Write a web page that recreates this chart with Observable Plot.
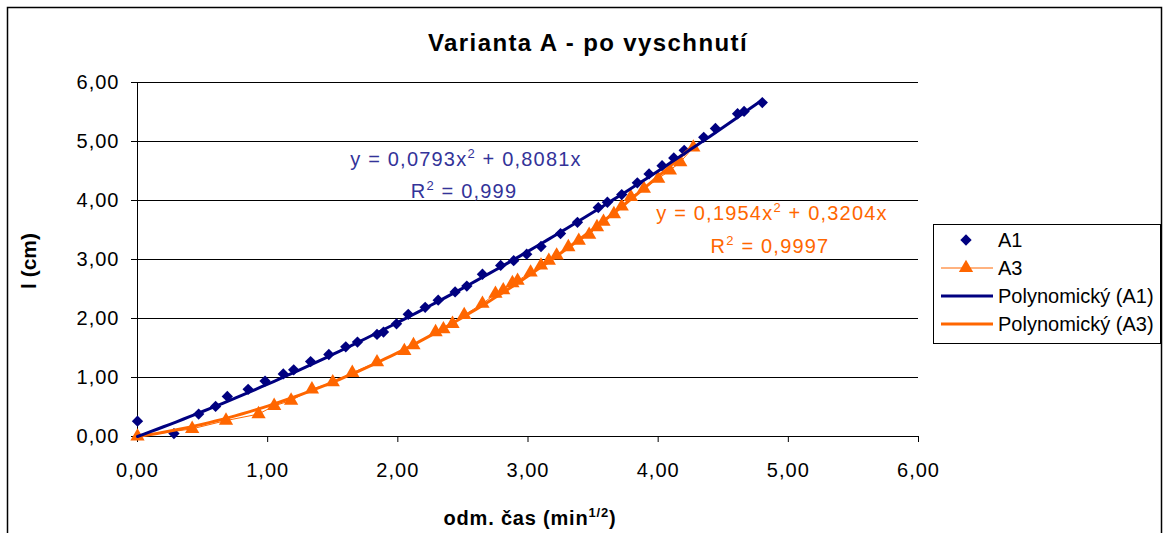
<!DOCTYPE html>
<html><head><meta charset="utf-8">
<script src="https://cdn.jsdelivr.net/npm/d3@7"></script>
<script src="https://cdn.jsdelivr.net/npm/@observablehq/plot@0.6"></script>
<style>
body{margin:0;background:#fff;}
#wrap{position:relative;width:1165px;height:533px;overflow:hidden;font-family:"Liberation Sans",Arial,sans-serif;background:#fff;}
#wrap svg{position:absolute;left:0;top:0;}
svg.chart text{letter-spacing:1px;}
</style></head><body><div id="wrap"></div>
<script>
// ---- data ----
const A1_x = [0, 0.28, 0.47, 0.60, 0.69, 0.85, 0.98, 1.12, 1.20, 1.33, 1.47, 1.60, 1.69, 1.84, 1.89, 1.99, 2.08, 2.21, 2.31, 2.44, 2.53, 2.65, 2.79, 2.89, 2.99, 3.10, 3.25, 3.38, 3.54, 3.61, 3.72, 3.84, 3.93, 4.03, 4.12, 4.20, 4.35, 4.44, 4.61, 4.66, 4.80];
const A1_y = [0.26, 0.05, 0.38, 0.51, 0.68, 0.80, 0.94, 1.06, 1.13, 1.27, 1.39, 1.52, 1.60, 1.73, 1.77, 1.91, 2.07, 2.19, 2.31, 2.45, 2.55, 2.75, 2.90, 2.98, 3.09, 3.22, 3.44, 3.63, 3.88, 3.97, 4.10, 4.30, 4.45, 4.59, 4.72, 4.85, 5.07, 5.22, 5.47, 5.51, 5.66];
const A3_x = [0, 0.42, 0.68, 0.93, 1.05, 1.18, 1.34, 1.50, 1.65, 1.84, 2.05, 2.12, 2.29, 2.35, 2.42, 2.51, 2.65, 2.75, 2.81, 2.88, 2.92, 3.02, 3.10, 3.16, 3.22, 3.31, 3.39, 3.47, 3.53, 3.58, 3.66, 3.72, 3.79, 3.89, 4.00, 4.09, 4.17, 4.27];
const A3_y = [0, 0.13, 0.27, 0.38, 0.52, 0.61, 0.80, 0.92, 1.08, 1.26, 1.45, 1.55, 1.77, 1.82, 1.91, 2.06, 2.25, 2.42, 2.48, 2.60, 2.64, 2.78, 2.90, 2.98, 3.07, 3.21, 3.32, 3.42, 3.55, 3.64, 3.77, 3.90, 4.06, 4.20, 4.37, 4.51, 4.65, 4.90];
// polynomial trendline coefficients [a (x^2), b (x)]
const trendA1 = [0.0793, 0.8081];
const trendA3 = [0.1954, 0.3204];
const xTicks = [0, 1, 2, 3, 4, 5, 6];
const yTicks = [0, 1, 2, 3, 4, 5, 6];
const seriesNames = ["A1", "A3", "Polynomický (A1)", "Polynomický (A3)"];
const title = "Varianta A - po vyschnutí";

const NAVY = "#000080", ORANGE = "#FF6600";
const R_DIAMOND = 5.1, R_TRI = 5.3;
const fmt = d => d.toFixed(2).replace(".", ",");

const A1 = A1_x.map((x, i) => ({x, y: A1_y[i]}));
const A3 = A3_x.map((x, i) => ({x, y: A3_y[i]}));
function trend(c, xmax) {
  const xs = d3.range(0, xmax, 0.05).concat([xmax]);
  return xs.map(x => ({x, y: c[0] * x * x + c[1] * x}));
}
const trA1 = trend(trendA1, d3.max(A1_x));
const trA3 = trend(trendA3, d3.max(A3_x));

const W = 1165, H = 533;
const plot = Plot.plot({
  width: W, height: H,
  marginLeft: 137, marginRight: 247, marginTop: 82, marginBottom: 97,
  className: "chart",
  style: {fontFamily: "'Liberation Sans', Arial, sans-serif", fontSize: "20px", color: "#000", background: "transparent", overflow: "visible"},
  x: {domain: [0, 6]},
  y: {domain: [0, 6]},
  marks: [
    Plot.gridY(yTicks, {stroke: "#000", strokeOpacity: 1, strokeWidth: 1}),
    Plot.ruleX([0], {stroke: "#000"}),
    Plot.ruleY([0], {stroke: "#000"}),
    Plot.axisX(xTicks, {tickSize: 6, tickPadding: 20, tickFormat: fmt, label: null, fontSize: 20, stroke: "#000"}),
    Plot.axisY(yTicks, {tickSize: 6, tickPadding: 12, tickFormat: fmt, label: null, fontSize: 20, stroke: "#000"}),
    Plot.line(A3, {x: "x", y: "y", stroke: ORANGE, strokeWidth: 1}),
    Plot.dot(A3, {x: "x", y: "y", symbol: "triangle", fill: ORANGE, r: R_TRI}),
    Plot.dot(A1, {x: "x", y: "y", symbol: "diamond2", fill: NAVY, r: R_DIAMOND}),
    Plot.line(trA3, {x: "x", y: "y", stroke: ORANGE, strokeWidth: 3}),
    Plot.line(trA1, {x: "x", y: "y", stroke: NAVY, strokeWidth: 3})
  ]
});
const wrap = document.getElementById("wrap");
wrap.appendChild(plot);

// ---- overlay: frame, titles, annotations, legend ----
const ov = d3.select(wrap).append("svg").attr("width", W).attr("height", H)
  .style("font-family", "'Liberation Sans', Arial, sans-serif");
ov.append("rect").attr("x", 7.5).attr("y", 7.5).attr("width", 1154).attr("height", 560)
  .attr("fill", "none").attr("stroke", "#000").attr("stroke-width", 1.5);

ov.append("text").attr("x", 588).attr("y", 51).attr("text-anchor", "middle")
  .attr("font-size", 24).attr("font-weight", "bold").attr("letter-spacing", 1.4).text(title);

ov.append("text").attr("transform", "translate(36,261) rotate(-90)").attr("text-anchor", "middle")
  .attr("font-size", 21).attr("font-weight", "bold").text("l (cm)");

const xt = ov.append("text").attr("x", 530).attr("y", 525).attr("text-anchor", "middle")
  .attr("font-size", 20).attr("font-weight", "bold").attr("letter-spacing", 0.8);
xt.append("tspan").text("odm. čas (min");
xt.append("tspan").attr("dy", -8).attr("font-size", 13).text("1/2");
xt.append("tspan").attr("dy", 8).text(")");

function eq(x, y, color, a, b) {
  const t = ov.append("text").attr("x", x).attr("y", y).attr("text-anchor", "middle")
    .attr("font-size", 20).attr("fill", color).attr("letter-spacing", 1.2);
  t.append("tspan").text("y = " + String(a).replace(".", ",") + "x");
  t.append("tspan").attr("dy", -8).attr("font-size", 13).text("2");
  t.append("tspan").attr("dy", 8).text(" + " + String(b).replace(".", ",") + "x");
}
function r2(x, y, color, v) {
  const t = ov.append("text").attr("x", x).attr("y", y).attr("text-anchor", "middle")
    .attr("font-size", 20).attr("fill", color).attr("letter-spacing", 1.2);
  t.append("tspan").text("R");
  t.append("tspan").attr("dy", -8).attr("font-size", 13).text("2");
  t.append("tspan").attr("dy", 8).text(" = " + v);
}
eq(466, 166, "#333399", trendA1[0], trendA1[1]);
r2(464, 198, "#333399", "0,999");
eq(772, 220, ORANGE, trendA3[0], trendA3[1]);
r2(770, 253, ORANGE, "0,9997");

// legend
const lg = ov.append("g");
lg.append("rect").attr("x", 933.5).attr("y", 224.5).attr("width", 227).attr("height", 119)
  .attr("fill", "#fff").attr("stroke", "#000").attr("stroke-width", 1);
const rowsY = [240, 268, 296, 324];
const sym = (type, r) => d3.symbol(type, Math.PI * r * r)();
// A1
lg.append("path").attr("d", sym(d3.symbolDiamond2, R_DIAMOND)).attr("transform", `translate(966,${rowsY[0]})`).attr("fill", NAVY);
// A3
lg.append("line").attr("x1", 941).attr("x2", 993).attr("y1", rowsY[1]).attr("y2", rowsY[1]).attr("stroke", ORANGE).attr("stroke-width", 1);
lg.append("path").attr("d", sym(d3.symbolTriangle, R_TRI)).attr("transform", `translate(966,${rowsY[1]})`).attr("fill", ORANGE);
// trendlines
lg.append("line").attr("x1", 941).attr("x2", 993).attr("y1", rowsY[2]).attr("y2", rowsY[2]).attr("stroke", NAVY).attr("stroke-width", 3);
lg.append("line").attr("x1", 941).attr("x2", 993).attr("y1", rowsY[3]).attr("y2", rowsY[3]).attr("stroke", ORANGE).attr("stroke-width", 3);
seriesNames.forEach((n, i) => {
  lg.append("text").attr("x", 998).attr("y", rowsY[i] + 7).attr("font-size", 20).text(n);
});
</script></body></html>
